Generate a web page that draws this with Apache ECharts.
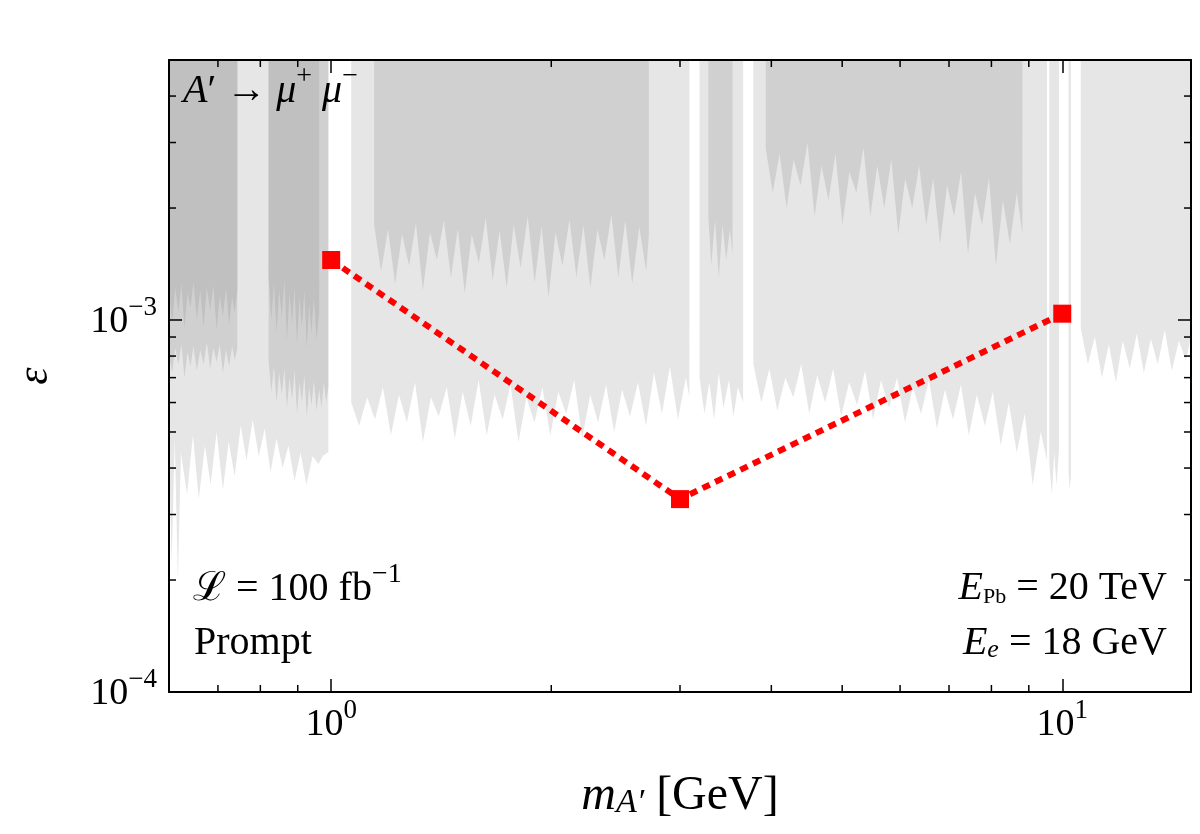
<!DOCTYPE html>
<html>
<head>
<meta charset="utf-8">
<script src="https://cdn.jsdelivr.net/npm/echarts@6/dist/echarts.min.js"></script>
<style>
  html, body { margin: 0; padding: 0; background: #fff; }
  #chart { width: 1200px; height: 834px; }
</style>
</head>
<body>
<div id="chart"></div>
<script>
const X_MIN = 0.6;
const X_MAX = 15;
const Y_MIN = 1e-4;
const Y_MAX = 5e-3;

// minor tick positions (log axes)
const MINOR_X = [0.7, 0.8, 0.9, 2, 3, 4, 5, 6, 7, 8, 9];
const MINOR_Y = [2e-4, 3e-4, 4e-4, 5e-4, 6e-4, 7e-4, 8e-4, 9e-4, 2e-3, 3e-3, 4e-3];

// projected reach, [m_A' (GeV), epsilon]
const SIGNAL = [[1, 1.45e-3], [3, 3.3e-4], [10, 1.04e-3]];

// excluded regions: lower edge of each band, filled up to the top of the plot
// (pairs of points at 5e-3 are the gaps between bands)
const LIGHT_EDGE = [
  [0.600, 4.6e-4], [0.605, 2.2e-4], [0.611, 4.8e-4], [0.617, 2.0e-4], [0.623, 4.4e-4], [0.635, 3.4e-4],
  [0.647, 4.9e-4], [0.659, 3.3e-4], [0.672, 4.6e-4], [0.684, 3.6e-4], [0.697, 5.0e-4], [0.711, 3.5e-4],
  [0.724, 4.7e-4], [0.738, 3.8e-4], [0.752, 5.2e-4], [0.766, 4.2e-4], [0.781, 5.4e-4], [0.796, 4.3e-4],
  [0.811, 5.1e-4], [0.826, 3.9e-4], [0.842, 4.8e-4], [0.858, 4.0e-4], [0.874, 4.6e-4], [0.891, 3.7e-4],
  [0.908, 4.4e-4], [0.925, 3.6e-4], [0.943, 4.3e-4], [0.961, 4.1e-4], [0.979, 4.4e-4], [0.991, 4.4e-4],
  [0.991, 5e-3], [1.065, 5e-3],
  [1.065, 6.0e-4], [1.092, 5.2e-4], [1.120, 6.2e-4], [1.148, 5.4e-4], [1.177, 6.6e-4], [1.207, 4.9e-4],
  [1.238, 6.3e-4], [1.269, 5.3e-4], [1.302, 6.8e-4], [1.335, 4.7e-4], [1.369, 6.2e-4], [1.403, 5.5e-4],
  [1.439, 6.6e-4], [1.476, 4.8e-4], [1.513, 6.4e-4], [1.552, 5.2e-4], [1.591, 6.9e-4], [1.632, 4.9e-4],
  [1.673, 6.3e-4], [1.716, 5.4e-4], [1.759, 6.7e-4], [1.804, 4.7e-4], [1.850, 6.2e-4], [1.897, 5.3e-4],
  [1.945, 6.6e-4], [1.994, 4.9e-4], [2.045, 6.4e-4], [2.097, 5.6e-4], [2.150, 6.9e-4], [2.205, 4.8e-4],
  [2.261, 6.3e-4], [2.318, 5.3e-4], [2.377, 6.7e-4], [2.438, 5.0e-4], [2.500, 6.5e-4], [2.563, 5.5e-4],
  [2.628, 6.8e-4], [2.695, 5.2e-4], [2.764, 7.2e-4], [2.834, 5.6e-4], [2.906, 7.5e-4], [2.980, 5.4e-4],
  [3.056, 7.0e-4], [3.09, 6.2e-4],
  [3.09, 5e-3], [3.19, 5e-3],
  [3.19, 7.0e-4], [3.24, 5.6e-4], [3.29, 6.8e-4], [3.34, 5.4e-4], [3.39, 7.2e-4], [3.44, 5.8e-4],
  [3.50, 6.9e-4], [3.55, 5.5e-4], [3.60, 6.6e-4], [3.66, 6.0e-4],
  [3.66, 5e-3], [3.78, 5e-3],
  [3.780, 7.6e-4], [3.876, 6.0e-4], [3.975, 7.4e-4], [4.076, 5.7e-4], [4.180, 7.0e-4], [4.286, 6.2e-4],
  [4.395, 7.6e-4], [4.507, 5.6e-4], [4.622, 7.1e-4], [4.739, 6.0e-4], [4.860, 7.4e-4], [4.984, 5.5e-4],
  [5.111, 6.8e-4], [5.241, 5.9e-4], [5.374, 7.3e-4], [5.511, 5.4e-4], [5.651, 6.9e-4], [5.795, 5.8e-4],
  [5.943, 7.0e-4], [6.094, 5.3e-4], [6.249, 6.6e-4], [6.408, 5.6e-4], [6.571, 6.9e-4], [6.739, 5.1e-4],
  [6.910, 6.5e-4], [7.086, 5.4e-4], [7.267, 6.7e-4], [7.452, 4.9e-4], [7.641, 6.3e-4], [7.836, 5.2e-4],
  [8.035, 6.4e-4], [8.240, 4.6e-4], [8.450, 6.0e-4], [8.665, 4.4e-4], [8.885, 5.6e-4], [9.111, 3.6e-4],
  [9.343, 5.0e-4], [9.53, 4.2e-4],
  [9.53, 5e-3], [9.6, 5e-3],
  [9.6, 4.1e-4], [9.68, 3.4e-4], [9.75, 4.4e-4], [9.82, 3.6e-4], [9.9, 4.5e-4],
  [9.9, 5e-3], [10.2, 5e-3],
  [10.2, 3.9e-4], [10.24, 3.5e-4], [10.28, 3.8e-4],
  [10.28, 5e-3], [10.6, 5e-3],
  [10.60, 9.5e-4], [10.84, 7.6e-4], [11.08, 9.0e-4], [11.33, 7.0e-4], [11.58, 8.6e-4], [11.84, 6.8e-4],
  [12.10, 8.8e-4], [12.37, 7.4e-4], [12.65, 9.2e-4], [12.93, 7.2e-4], [13.22, 8.9e-4], [13.51, 7.6e-4],
  [13.81, 9.4e-4], [14.12, 7.3e-4], [14.44, 8.8e-4], [14.76, 7.8e-4], [15, 9.0e-4]
];

const SMOOTH_EDGE = [
  [0.6, 7.75e-4], [0.68, 7.3e-4], [0.742, 6.85e-4], [0.79, 6.43e-4], [0.849, 5.45e-4],
  [0.913, 4.43e-4], [0.933, 4.3e-4], [0.96, 4.32e-4], [0.984, 4.35e-4]
];

const MEDIUM_EDGE = [
  [0.600, 8.0e-4], [0.606, 7.2e-4], [0.612, 8.4e-4], [0.618, 7.6e-4], [0.624, 8.6e-4], [0.630, 7.0e-4],
  [0.636, 8.2e-4], [0.642, 7.5e-4], [0.648, 8.5e-4], [0.655, 7.3e-4], [0.662, 8.3e-4], [0.669, 7.6e-4],
  [0.676, 8.7e-4], [0.683, 7.4e-4], [0.690, 8.4e-4], [0.697, 7.7e-4], [0.704, 8.6e-4], [0.711, 7.2e-4],
  [0.718, 8.3e-4], [0.725, 7.5e-4], [0.732, 8.5e-4], [0.738, 7.8e-4], [0.744, 8.4e-4],
  [0.744, 5e-3], [0.821, 5e-3],
  [0.821, 7.8e-4], [0.828, 6.4e-4], [0.835, 7.5e-4], [0.842, 6.0e-4], [0.849, 7.2e-4], [0.856, 6.3e-4],
  [0.863, 7.4e-4], [0.870, 5.8e-4], [0.877, 7.0e-4], [0.884, 6.1e-4], [0.891, 7.3e-4], [0.898, 5.6e-4],
  [0.905, 6.8e-4], [0.912, 6.0e-4], [0.919, 7.1e-4], [0.926, 5.5e-4], [0.933, 6.6e-4], [0.940, 5.9e-4],
  [0.947, 6.9e-4], [0.955, 5.7e-4], [0.963, 6.5e-4], [0.970, 5.8e-4], [0.977, 6.8e-4], [0.984, 6.0e-4],
  [0.991, 6.6e-4],
  [0.991, 5e-3], [1.145, 5e-3],
  [1.145, 1.80e-3], [1.170, 1.35e-3], [1.196, 1.75e-3], [1.223, 1.25e-3], [1.250, 1.70e-3], [1.278, 1.40e-3],
  [1.306, 1.82e-3], [1.335, 1.20e-3], [1.365, 1.72e-3], [1.395, 1.45e-3], [1.426, 1.85e-3], [1.458, 1.30e-3],
  [1.490, 1.76e-3], [1.523, 1.18e-3], [1.557, 1.70e-3], [1.592, 1.42e-3], [1.627, 1.88e-3], [1.663, 1.28e-3],
  [1.700, 1.74e-3], [1.738, 1.22e-3], [1.777, 1.80e-3], [1.816, 1.38e-3], [1.857, 1.90e-3], [1.898, 1.26e-3],
  [1.940, 1.78e-3], [1.983, 1.15e-3], [2.027, 1.72e-3], [2.072, 1.40e-3], [2.118, 1.86e-3], [2.165, 1.30e-3],
  [2.213, 1.80e-3], [2.262, 1.22e-3], [2.313, 1.75e-3], [2.364, 1.45e-3], [2.417, 1.92e-3], [2.470, 1.30e-3],
  [2.525, 1.85e-3], [2.581, 1.25e-3], [2.639, 1.78e-3], [2.697, 1.35e-3], [2.72, 1.70e-3],
  [2.72, 5e-3], [3.28, 5e-3],
  [3.28, 1.90e-3], [3.31, 1.40e-3], [3.35, 1.85e-3], [3.39, 1.30e-3], [3.43, 1.80e-3], [3.47, 1.45e-3],
  [3.51, 1.75e-3], [3.54, 1.50e-3],
  [3.54, 5e-3], [3.93, 5e-3],
  [3.930, 2.9e-3], [4.017, 2.2e-3], [4.106, 2.8e-3], [4.197, 2.0e-3], [4.291, 2.7e-3], [4.386, 2.3e-3],
  [4.483, 3.0e-3], [4.583, 1.9e-3], [4.685, 2.6e-3], [4.789, 2.1e-3], [4.895, 2.8e-3], [5.004, 1.8e-3],
  [5.115, 2.5e-3], [5.229, 2.2e-3], [5.345, 2.9e-3], [5.464, 1.9e-3], [5.585, 2.6e-3], [5.709, 2.0e-3],
  [5.836, 2.7e-3], [5.966, 1.7e-3], [6.098, 2.4e-3], [6.234, 2.0e-3], [6.372, 2.6e-3], [6.514, 1.8e-3],
  [6.659, 2.4e-3], [6.807, 1.6e-3], [6.958, 2.3e-3], [7.112, 1.9e-3], [7.270, 2.5e-3], [7.432, 1.5e-3],
  [7.597, 2.2e-3], [7.766, 1.8e-3], [7.938, 2.4e-3], [8.115, 1.4e-3], [8.295, 2.1e-3], [8.479, 1.6e-3],
  [8.667, 2.2e-3], [8.82, 1.7e-3],
  [8.82, 5e-3]
];

const DARK_EDGE = [
  [0.600, 1.20e-3], [0.606, 0.98e-3], [0.612, 1.22e-3], [0.618, 1.05e-3], [0.624, 1.25e-3], [0.630, 0.95e-3],
  [0.636, 1.18e-3], [0.642, 1.08e-3], [0.648, 1.26e-3], [0.655, 1.00e-3], [0.662, 1.20e-3], [0.669, 0.96e-3],
  [0.676, 1.22e-3], [0.683, 1.06e-3], [0.690, 1.24e-3], [0.697, 0.94e-3], [0.704, 1.16e-3], [0.711, 1.02e-3],
  [0.718, 1.22e-3], [0.725, 0.97e-3], [0.732, 1.15e-3], [0.738, 1.05e-3], [0.744, 1.20e-3],
  [0.744, 5e-3], [0.821, 5e-3],
  [0.821, 1.30e-3], [0.828, 1.00e-3], [0.835, 1.25e-3], [0.842, 0.92e-3], [0.849, 1.20e-3], [0.856, 1.02e-3],
  [0.863, 1.28e-3], [0.870, 0.88e-3], [0.877, 1.18e-3], [0.884, 0.98e-3], [0.891, 1.22e-3], [0.898, 0.86e-3],
  [0.905, 1.15e-3], [0.912, 0.95e-3], [0.919, 1.20e-3], [0.926, 0.84e-3], [0.933, 1.10e-3], [0.940, 0.92e-3],
  [0.947, 1.15e-3], [0.955, 0.88e-3], [0.963, 1.05e-3],
  [0.963, 5e-3]
];

const FONT = '"Liberation Serif", "DejaVu Serif", serif';
const txt = (size, lh, extra) => Object.assign(
  { fontFamily: FONT, fontSize: size, lineHeight: lh, verticalAlign: 'bottom', color: '#000' }, extra || {});

// tick labels
const RICH_TICK = {
  b: txt(38, 42),
  s: txt(27, 28, { padding: [0, 0, 20, 0] })
};

// annotations inside the plot
const RICH = {
  b: txt(40, 44),
  i: txt(40, 44, { fontStyle: 'italic' }),
  s: txt(28, 30, { padding: [0, 0, 20, 0] }),
  sub: txt(22, 22),
  subi: txt(26, 22, { fontStyle: 'italic' })
};

const powLabel = v => {
  const e = Math.log10(v);
  const n = Math.round(e);
  if (Math.abs(e - n) > 1e-6) return '';
  return '{b|10}{s|' + (n < 0 ? '\u2212' + (-n) : n) + '}';
};

const band = (data, color) => ({
  type: 'line',
  data: data,
  silent: true,
  showSymbol: false,
  symbol: 'none',
  lineStyle: { width: 0, opacity: 0 },
  areaStyle: { color: color, opacity: 1, origin: 'end' },
  z: 1
});

const tickStyle = { stroke: '#000', lineWidth: 1.5 };
const MINOR_LEN = 7;

const renderMinorX = (params, api) => {
  const cs = params.coordSys;
  const px = api.coord([api.value(0), Y_MIN])[0];
  return {
    type: 'group',
    children: [
      { type: 'line', shape: { x1: px, y1: cs.y + cs.height, x2: px, y2: cs.y + cs.height - MINOR_LEN }, style: tickStyle },
      { type: 'line', shape: { x1: px, y1: cs.y, x2: px, y2: cs.y + MINOR_LEN }, style: tickStyle }
    ]
  };
};

const renderMinorY = (params, api) => {
  const cs = params.coordSys;
  const py = api.coord([X_MIN, api.value(1)])[1];
  return {
    type: 'group',
    children: [
      { type: 'line', shape: { x1: cs.x, y1: py, x2: cs.x + MINOR_LEN, y2: py }, style: tickStyle },
      { type: 'line', shape: { x1: cs.x + cs.width, y1: py, x2: cs.x + cs.width - MINOR_LEN, y2: py }, style: tickStyle }
    ]
  };
};

const axisLineStyle = { show: true, onZero: false, lineStyle: { color: '#000', width: 2 } };
const majorTick = { show: true, inside: true, length: 13, lineStyle: { color: '#000', width: 1.5 } };

const chart = echarts.init(document.getElementById('chart'), null, { renderer: 'canvas' });

chart.setOption({
  animation: false,
  backgroundColor: '#fff',
  grid: { left: 169, right: 9, top: 60, bottom: 142, containLabel: false },
  xAxis: [
    {
      type: 'log', logBase: 10, min: X_MIN, max: X_MAX, position: 'bottom', z: 10,
      axisLine: axisLineStyle, axisTick: majorTick, splitLine: { show: false },
      axisLabel: { margin: 10, formatter: powLabel, rich: RICH_TICK, showMinLabel: false, showMaxLabel: false },
      name: '{i|m}{subi|A\u2032}{r| [GeV]}',
      nameLocation: 'middle', nameGap: 74,
      nameTextStyle: {
        rich: {
          i: txt(48, 54, { fontStyle: 'italic' }),
          subi: txt(34, 25, { fontStyle: 'italic' }),
          r: txt(48, 54)
        }
      }
    },
    {
      type: 'log', logBase: 10, min: X_MIN, max: X_MAX, position: 'top', z: 10,
      axisLine: axisLineStyle, axisTick: majorTick, splitLine: { show: false },
      axisLabel: { show: false }
    }
  ],
  yAxis: [
    {
      type: 'log', logBase: 10, min: Y_MIN, max: Y_MAX, position: 'left', z: 10,
      axisLine: axisLineStyle, axisTick: majorTick, splitLine: { show: false },
      axisLabel: { margin: 12, formatter: powLabel, rich: RICH_TICK, showMinLabel: true, showMaxLabel: false }
    },
    {
      type: 'log', logBase: 10, min: Y_MIN, max: Y_MAX, position: 'right', z: 10,
      axisLine: axisLineStyle, axisTick: majorTick, splitLine: { show: false },
      axisLabel: { show: false }
    }
  ],
  series: [
    band(LIGHT_EDGE, '#e6e6e6'),
    band(SMOOTH_EDGE, '#e6e6e6'),
    band(MEDIUM_EDGE, '#d0d0d0'),
    band(DARK_EDGE, '#c0c0c0'),
    {
      type: 'line',
      data: SIGNAL,
      symbol: 'rect',
      symbolSize: 18,
      itemStyle: { color: '#ff0000' },
      lineStyle: { color: '#ff0000', width: 6, type: [8, 6] },
      z: 5
    },
    {
      type: 'custom',
      renderItem: renderMinorX,
      data: MINOR_X.map(v => [v, Y_MIN]),
      silent: true,
      z: 6
    },
    {
      type: 'custom',
      renderItem: renderMinorY,
      data: MINOR_Y.map(v => [X_MIN, v]),
      silent: true,
      z: 6
    }
  ],
  graphic: [
    {
      // y-axis label, turned to read bottom-to-top like the reference
      type: 'group', x: 35, y: 376, rotation: Math.PI / 2, z: 10,
      children: [{
        type: 'text',
        style: { text: '\u03b5', font: 'italic 44px ' + FONT, fill: '#000', align: 'center', verticalAlign: 'middle' }
      }]
    },
    {
      type: 'text', left: 183, top: 63, z: 10,
      style: { text: '{i|A}{b|\u2032 \u2192 }{i|\u03bc}{s|+}{b| }{i|\u03bc}{s|\u2212}', rich: RICH }
    },
    {
      type: 'text', left: 193, top: 561, z: 10,
      style: { text: '{b|\u2112 = 100 fb}{s|\u22121}', rich: RICH }
    },
    {
      type: 'text', left: 194, top: 623, z: 10,
      style: { text: '{b|Prompt}', rich: RICH }
    },
    {
      type: 'text', right: 33, top: 568, z: 10,
      style: { text: '{i|E}{sub|Pb}{b| = 20 TeV}', rich: RICH }
    },
    {
      type: 'text', right: 33, top: 623, z: 10,
      style: { text: '{i|E}{subi|e}{b| = 18 GeV}', rich: RICH }
    }
  ]
});

window.addEventListener('resize', chart.resize);
</script>
</body>
</html>
